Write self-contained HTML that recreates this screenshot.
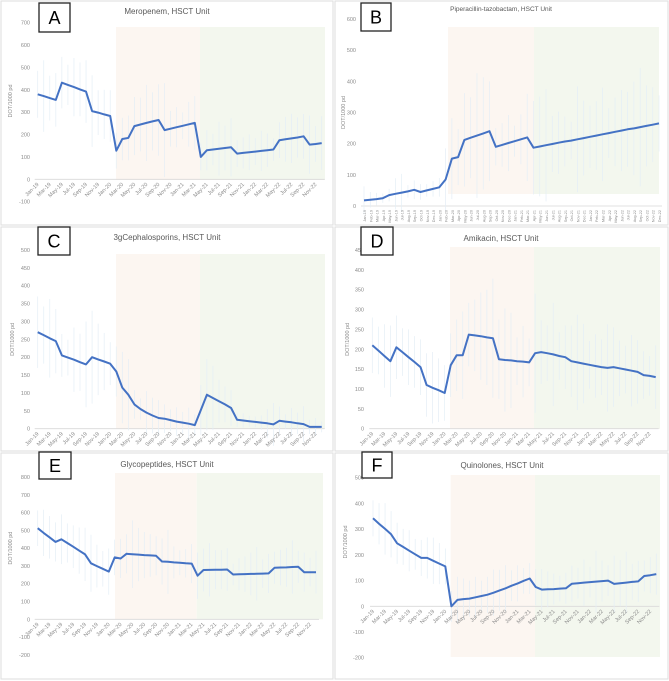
<!DOCTYPE html>
<html><head><meta charset="utf-8">
<style>
html,body{margin:0;padding:0;background:#fff;}
svg{display:block;font-family:"Liberation Sans",sans-serif;}
</style></head>
<body>
<svg id="fig" width="669" height="681" viewBox="0 0 669 681" xmlns="http://www.w3.org/2000/svg"></svg>
<script>
const months = ["Jan","Feb","Mar","Apr","May","Jun","Jul","Aug","Sep","Oct","Nov","Dec"];
const years = ["19","20","21","22"];
const meropenemValues = [380,372,363,355,432,422,412,402,392,305,298,290,283,128,180,185,238,245,252,259,265,220,226,233,239,246,252,100,130,133,137,140,143,115,118,121,124,127,130,133,175,179,183,187,192,155,158,162];
const piperacillinValues = [18,20,22,25,35,39,43,47,52,45,50,55,60,85,152,157,212,219,226,233,240,190,196,202,208,214,220,187,191,195,199,203,207,210,214,218,222,226,230,234,238,242,246,249,253,257,261,265];
const cephalosporinValues = [270,262,253,245,205,199,193,186,180,200,194,188,182,160,115,95,68,55,45,37,30,28,24,20,17,14,10,52,95,86,77,68,58,25,23,21,19,17,15,12,22,20,18,15,13,5,5,5];
const amikacinValues = [210,197,183,170,205,193,180,168,155,110,103,97,90,160,185,185,237,235,233,230,228,175,173,172,170,169,167,190,193,190,187,183,180,170,167,164,161,158,155,153,155,152,149,146,143,135,133,130];
const glycopeptideValues = [512,486,461,435,450,429,408,386,365,315,299,284,268,348,342,368,366,364,361,359,357,325,323,320,318,315,313,245,277,278,279,279,280,252,253,254,255,256,257,258,290,291,292,294,295,265,265,265];
const quinoloneValues = [342,321,301,280,245,231,216,202,188,188,177,166,155,0,25,28,30,35,40,45,53,62,70,80,89,99,108,75,65,66,67,69,70,88,90,92,94,96,98,100,87,90,92,95,97,118,121,125];
const meropenemErr = [105,160,100,120,115,90,130,120,140,160,100,110,115,80,95,100,130,120,170,130,160,210,80,90,60,100,120,60,90,70,120,100,130,60,70,80,60,90,75,50,80,100,110,90,100,130,80,120];
const piperacillinErr = [45,25,20,15,20,50,60,20,30,25,20,25,30,100,130,90,150,130,200,180,160,60,70,90,50,80,140,150,160,180,90,100,80,60,170,120,100,110,150,80,110,130,120,150,190,130,120,90];
const cephalosporinErr = [100,80,110,90,60,50,90,80,120,130,100,80,60,70,100,100,40,30,60,50,50,40,30,40,30,45,30,70,100,90,60,50,50,20,20,15,15,20,40,60,40,20,40,30,50,20,25,15];
const amikacinErr = [70,60,80,90,80,60,70,65,70,80,90,80,70,80,90,110,80,90,110,120,150,100,130,120,60,90,60,150,80,70,130,60,80,90,120,100,60,80,70,110,100,70,60,90,80,60,50,80];
const glycopeptideErr = [100,130,120,110,140,110,120,130,150,160,120,100,130,100,110,110,190,150,130,120,110,130,180,90,70,80,110,130,120,150,110,110,120,60,90,100,120,150,80,110,90,100,110,150,90,110,80,120];
const quinoloneErr = [70,80,100,90,80,70,80,60,70,80,90,80,70,60,90,80,70,80,60,70,90,80,90,60,70,50,60,70,80,70,60,50,60,70,60,90,60,120,80,60,110,90,120,70,80,60,70,80];
const ticksA = [-100,0,100,200,300,400,500,600,700];
const ticksB = [0,100,200,300,400,500,600];
const ticksC = [0,50,100,150,200,250,300,350,400,450,500];
const ticksD = [0,50,100,150,200,250,300,350,400,450];
const ticksE = [-200,-100,0,100,200,300,400,500,600,700,800];
const ticksF = [-200,-100,0,100,200,300,400,500];

const NS="http://www.w3.org/2000/svg";
const svg=document.getElementById('fig');
function mk(tag,attrs,parent){const e=document.createElementNS(NS,tag);for(const k in attrs)e.setAttribute(k,attrs[k]);(parent||svg).appendChild(e);return e;}
const monthLabels=[];years.forEach(y=>months.forEach(m=>monthLabels.push(m+"-"+y)));

const panels=[
 {id:"a",letter:"A",title:"Meropenem, HSCT Unit",values:meropenemValues,err:meropenemErr,ticks:ticksA,frame:[1,1,332,224],box:[39,3,31,29],
  x0:37.7,x1:321.7,yTop:700,yTopPx:22.7,yZeroPx:179.3,pink:[116,200],green:[200,325],shadeTop:27,shadeBot:180,tx:167,ty:14,tickX:30,allMonths:false,titleX:12},
 {id:"b",letter:"B",title:"Piperacillin-tazobactam, HSCT Unit",values:piperacillinValues,err:piperacillinErr,ticks:ticksB,frame:[335,1,333,224],box:[361,3,30,28],
  x0:364,x1:659,yTop:600,yTopPx:19,yZeroPx:206,pink:[448,534],green:[534,659],shadeTop:27,shadeBot:194,tx:501,ty:11,tickX:356,allMonths:true,titleX:345},
 {id:"c",letter:"C",title:"3gCephalosporins, HSCT Unit",values:cephalosporinValues,err:cephalosporinErr,ticks:ticksC,frame:[1,227,332,224],box:[38,227,32,28],
  x0:37.7,x1:321.7,yTop:500,yTopPx:250,yZeroPx:428.7,pink:[116,200],green:[200,325],shadeTop:254,shadeBot:429,tx:167,ty:240,tickX:30,allMonths:false,titleX:14},
 {id:"d",letter:"D",title:"Amikacin, HSCT Unit",values:amikacinValues,err:amikacinErr,ticks:ticksD,frame:[335,227,333,224],box:[361,227,32,28],
  x0:372.3,x1:655.7,yTop:450,yTopPx:250,yZeroPx:428.7,pink:[450,534],green:[534,660],shadeTop:247,shadeBot:429,tx:501,ty:241,tickX:364,allMonths:false,titleX:349},
 {id:"e",letter:"E",title:"Glycopeptides, HSCT Unit",values:glycopeptideValues,err:glycopeptideErr,ticks:ticksE,frame:[1,453,332,226],box:[39,452,32,27],
  x0:37.7,x1:316,yTop:800,yTopPx:477,yZeroPx:619.3,pink:[115,196.7],green:[196.7,323],shadeTop:473,shadeBot:619.3,tx:167,ty:467,tickX:30,allMonths:false,titleX:12},
 {id:"f",letter:"F",title:"Quinolones, HSCT Unit",values:quinoloneValues,err:quinoloneErr,ticks:ticksF,frame:[335,453,333,226],box:[362,452,30,26],
  x0:373,x1:656.3,yTop:500,yTopPx:477.7,yZeroPx:606.3,pink:[450.7,535],green:[535,660],shadeTop:475,shadeBot:657,tx:502,ty:468,tickX:364,allMonths:false,titleX:347}
];

panels.forEach(p=>{
  const g=mk('g',{});
  
  
  const xScale=i=>p.x0+(p.x1-p.x0)*i/47;
  const yScale=v=>p.yZeroPx-(p.yZeroPx-p.yTopPx)*v/p.yTop;
  const fr=mk('rect',{x:p.frame[0],y:p.frame[1],width:p.frame[2],height:p.frame[3],fill:'#fff',stroke:'#dedede','stroke-width':1},g);
  
  
  const pk=mk('rect',{x:p.pink[0],y:p.shadeTop,width:p.pink[1]-p.pink[0],height:p.shadeBot-p.shadeTop,fill:'#fcf6f1'},g);
  
  
  const gr=mk('rect',{x:p.green[0],y:p.shadeTop,width:p.green[1]-p.green[0],height:p.shadeBot-p.shadeTop,fill:'#f3f7ee'},g);
  
  
  const zl=mk('line',{x1:p.x0-3,x2:p.x1+3,y1:p.yZeroPx,y2:p.yZeroPx,stroke:'#d9d9d9','stroke-width':0.8},g);
  
  
  p.values.forEach((v,i)=>{
    const e=p.err[i], x=xScale(i);
    const eb=mk('line',{x1:x,x2:x,y1:yScale(v+e),y2:yScale(v-e),stroke:'#e4eef6','stroke-width':0.7},g);
    
    
  });
  p.ticks.forEach(t=>{
    const tl=mk('text',{x:p.tickX,y:yScale(t)+2,'font-size':5.5,fill:'#8c8c8c','text-anchor':'end'},g);
    tl.textContent=t;
    
    
  });
  const ym=(p.yTopPx+p.yZeroPx)/2;
  const yt=mk('text',{x:p.titleX,y:ym,'font-size':5.5,fill:'#8c8c8c','text-anchor':'middle',transform:`rotate(-90 ${p.titleX} ${ym})`},g);
  yt.textContent='DOT/1000 pd';
  
  
  monthLabels.forEach((lab,i)=>{
    if(!p.allMonths && i%2) return;
    const x=xScale(i), y=p.yZeroPx+4;
    const t=mk('text',{x:x,y:y+2,'font-size':p.allMonths?3.8:5.5,fill:'#8c8c8c','text-anchor':'end',transform:`rotate(${p.allMonths?-90:-45} ${x} ${y})`},g);
    t.textContent=lab;
    
    
  });
  const pts=p.values.map((v,i)=>xScale(i).toFixed(1)+','+yScale(v).toFixed(1)).join(' ');
  const ln=mk('polyline',{points:pts,fill:'none',stroke:'#4472c4','stroke-width':2,'stroke-linejoin':'round'},g);
  
  
  const ti=mk('text',{x:p.tx,y:p.ty,'font-size':p.allMonths?6.5:8,fill:'#595959','text-anchor':'middle'},g);
  ti.textContent=p.title;
  
  
  const bx=mk('rect',{x:p.box[0],y:p.box[1],width:p.box[2],height:p.box[3],fill:'#fff',stroke:'#222','stroke-width':1.3},g);
  
  
  const lt=mk('text',{x:p.box[0]+p.box[2]/2,y:p.box[1]+p.box[3]/2+6.5,'font-size':18,fill:'#000','text-anchor':'middle'},g);
  lt.textContent=p.letter;
  
  
});
</script>
</body></html>
